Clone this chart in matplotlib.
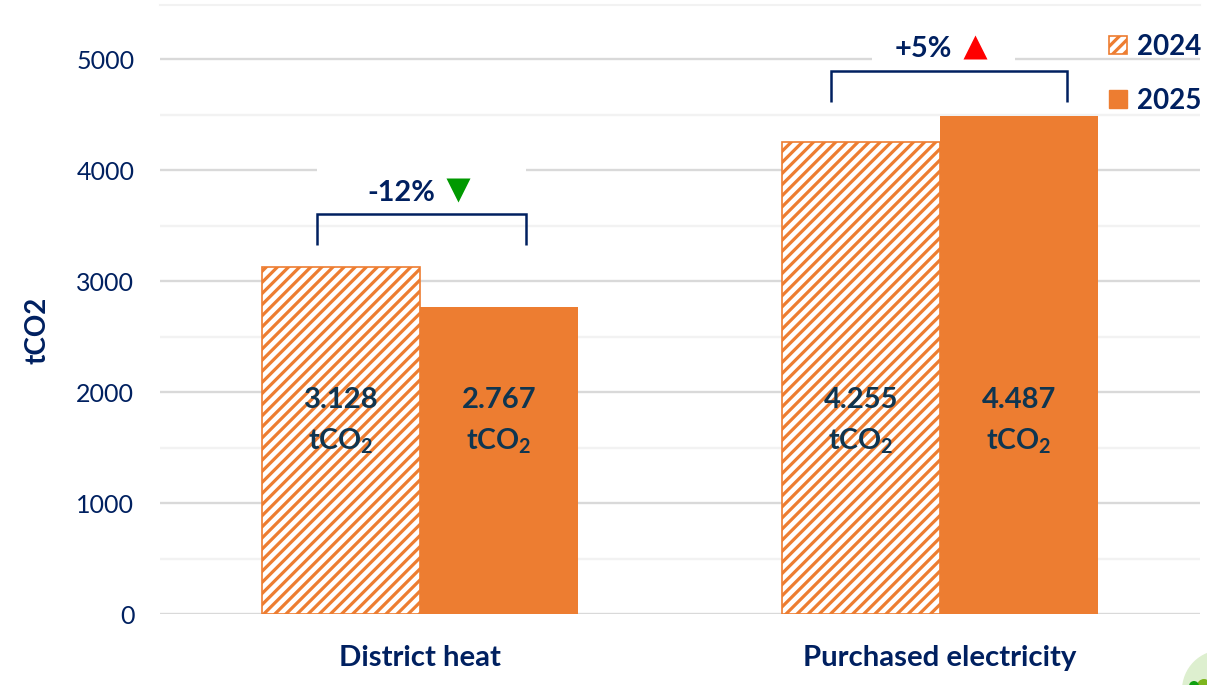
import numpy as np
import matplotlib
matplotlib.use("Agg")
import matplotlib.pyplot as plt
from matplotlib.patches import Patch, Rectangle, Circle

categories = ["District heat", "Purchased electricity"]
values_2024 = [3128, 4255]
values_2025 = [2767, 4487]
labels_2024 = ["3.128", "4.255"]
labels_2025 = ["2.767", "4.487"]
changes = ["-12%", "+5%"]
years = ["2024", "2025"]

navy = "#002060"
orange = "#ED7D31"
dark = "#0F3550"

plt.rcParams["font.family"] = ["Lato", "DejaVu Sans"]
plt.rcParams["hatch.linewidth"] = 2.3
plt.rcParams["mathtext.fontset"] = "custom"
plt.rcParams["mathtext.rm"] = "Lato:bold"

W, H = 1207, 685
fig = plt.figure(figsize=(W / 100, H / 100), dpi=100)
ax = fig.add_axes([160 / W, 1 - 614 / H, 1040 / W, 610 / H])

x = np.arange(len(categories))
width = 0.304
ax.bar(x - width / 2, values_2024, width, facecolor="white", edgecolor=orange,
       hatch="///", linewidth=1.2, zorder=3)
ax.bar(x + width / 2, values_2025, width, color=orange, zorder=3)

ax.set_xlim(-0.5, 1.5)
ax.set_ylim(0, 5495)
ax.set_yticks(range(0, 6000, 1000))
ax.set_yticks(range(500, 6000, 1000), minor=True)
ax.grid(axis="y", which="major", color="#D9D9D9", lw=1.7, zorder=0)
ax.grid(axis="y", which="minor", color="#F2F2F2", lw=1.7, zorder=0)
ax.set_axisbelow(True)
for s in ax.spines.values():
    s.set_visible(False)
ax.tick_params(axis="both", which="both", length=0)
ax.tick_params(axis="y", labelsize=18, labelcolor=navy, pad=18.5)
ax.set_xticks(x)
ax.set_xticklabels(categories, fontsize=21.2, fontweight="bold", color=navy)
ax.tick_params(axis="x", pad=22.5)
ax.set_ylabel("tCO2", fontsize=20, fontweight="bold", color=navy)
ax.yaxis.set_label_coords(-109 / 1040, 0.465)
ax.axhline(5495, color="#F2F2F2", lw=1.5, clip_on=False, zorder=0)

# value labels
for i in range(2):
    for xp, lab in [(x[i] - width / 2, labels_2024[i]), (x[i] + width / 2, labels_2025[i])]:
        ax.text(xp, 1930, lab, ha="center", va="center", fontsize=21,
                fontweight="bold", color=dark, zorder=5)
        ax.text(xp, 1560, r"$\mathrm{tCO_2}$", ha="center", va="center", fontsize=20.5,
                color=dark, zorder=5)

# white gaps in the gridlines behind the change labels
ax.add_patch(Rectangle((-0.198, 3950), 0.402, 100, fc="white", ec="none", zorder=1))
ax.add_patch(Rectangle((0.869, 4950), 0.275, 100, fc="white", ec="none", zorder=1))

# brackets
ax.plot([-0.198, -0.198, 0.204, 0.204], [3324, 3604, 3604, 3324], color=navy, lw=1.8,
        solid_joinstyle="miter", solid_capstyle="butt", zorder=4)
ax.plot([0.79, 0.79, 1.244, 1.244], [4613, 4900, 4900, 4613], color=navy, lw=1.8,
        solid_joinstyle="miter", solid_capstyle="butt", zorder=4)

ax.text(-0.036, 3800, changes[0], ha="center", va="center", fontsize=20.8,
        fontweight="bold", color=navy, zorder=5)
ax.text(0.967, 5098, changes[1], ha="center", va="center", fontsize=20.8,
        fontweight="bold", color=navy, zorder=5)
ax.plot([0.073], [3820], marker="v", ms=17, color="#009900", mec="none", zorder=5)
ax.plot([1.067], [5108], marker="^", ms=17, color="#FF0000", mec="none", zorder=5)

handles = [Patch(facecolor="white", edgecolor=orange, hatch="///", lw=1.2, label=years[0]),
           Patch(facecolor=orange, edgecolor=orange, label=years[1])]
leg = fig.legend(handles=handles, loc="upper right", bbox_to_anchor=(1201 / W, 1 - 34 / H),
                 frameon=False, handlelength=0.62, handleheight=0.62,
                 handletextpad=0.36, labelspacing=1.0, borderpad=0, borderaxespad=0,
                 labelcolor=navy, prop={"weight": "bold", "size": 20})

# corner of the logo at the bottom right
fig_ax = fig.add_axes([0, 0, 1, 1], facecolor="none")
fig_ax.set_xlim(0, W)
fig_ax.set_ylim(H, 0)
fig_ax.axis("off")
fig_ax.add_patch(Circle((1222, 690), 40, fc="#DDEFCF", ec="none"))
fig_ax.add_patch(Circle((1204, 686), 7, fc="#7DB51E", ec="none"))
fig_ax.add_patch(Circle((1194, 686), 5, fc="#10A010", ec="none"))

fig.savefig("out.png", dpi=100)
